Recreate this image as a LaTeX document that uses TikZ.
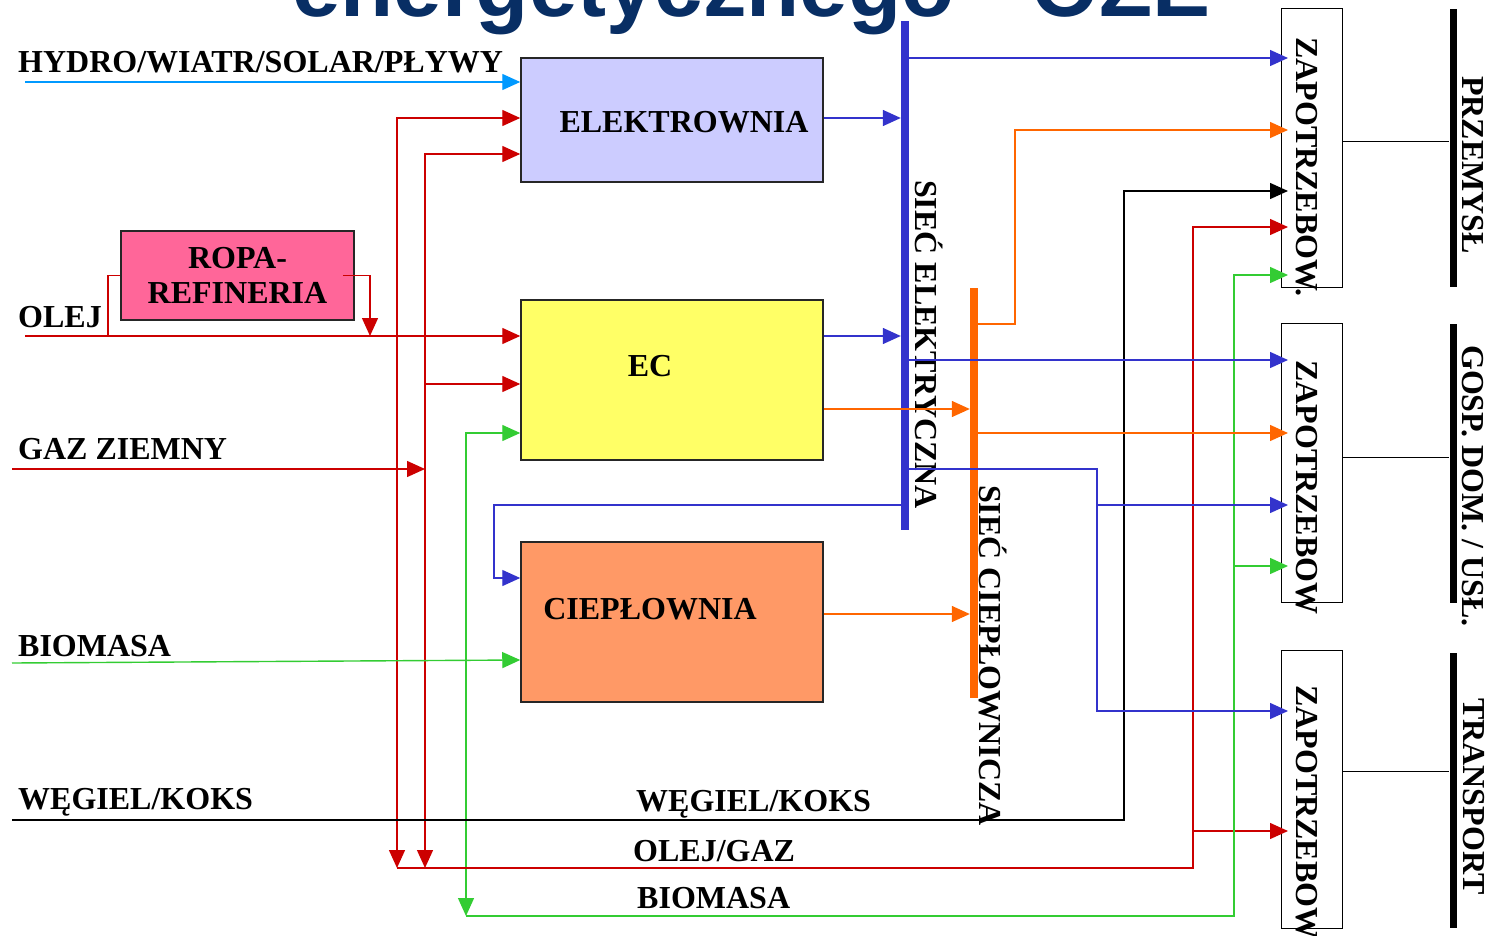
\documentclass[tikz,border=0pt]{standalone}
\usepackage{fontspec}
\setmainfont{Liberation Serif}
\newfontfamily\titlesans{Liberation Sans}
\usepackage{tikz}
\usetikzlibrary{arrows.meta, positioning}
\definecolor{titleblue}{RGB}{8,46,100}
\definecolor{gridblue}{RGB}{51,51,204}
\definecolor{hydroblue}{RGB}{0,153,255}
\definecolor{fuelred}{RGB}{204,0,0}
\definecolor{biogreen}{RGB}{51,204,51}
\definecolor{heatorange}{RGB}{255,102,0}
\definecolor{elfill}{RGB}{204,204,255}
\definecolor{ecfill}{RGB}{255,255,102}
\definecolor{cpfill}{RGB}{255,153,102}
\definecolor{rafill}{RGB}{255,102,153}

\begin{document}
\begin{tikzpicture}[x=1pt, y=-1pt,
    every node/.style={font=\fontsize{32}{35}\selectfont\bfseries, inner sep=0pt},
    plant/.style={rectangle, draw=black!85, line width=1.5pt},
    demand/.style={rectangle, draw=black, fill=white, line width=1pt, minimum width=61pt},
    bus/.style={rectangle, minimum width=8pt},
    sector bar/.style={rectangle, fill=black, minimum width=7pt},
    vtext/.style={rotate=-90, anchor=base west},
    txt/.style={anchor=base west},
    arr/.style={-{Triangle[length=18pt,width=16pt]}, line width=1.4pt},
    arr2/.style={{Triangle[length=18pt,width=16pt]}-{Triangle[length=18pt,width=16pt]}, line width=1.4pt},
    into/.style={shorten >=-7pt},
  ]
  \useasboundingbox (0,0) rectangle (1490,936);
  \clip (0,0) rectangle (1490,936);

  % ============ TITLE (cut by the top edge) ============
  \node[anchor=base west, font=\titlesans\fontsize{87}{87}\selectfont\bfseries, text=titleblue]
    (tytul) at (292,17) {energetycznego - OZE};

  % ============ PLANTS ============
  \node[plant, fill=elfill, minimum width=302pt, minimum height=124pt] (elek) at (672,120) {};
  \node[anchor=base] (elekT) at (684,133) {ELEKTROWNIA};
  \node[plant, fill=ecfill, minimum width=302pt, minimum height=160pt] (ec) at (672,380) {};
  \node[anchor=base] (ecT) at (650,376) {EC};
  \node[plant, fill=cpfill, minimum width=302pt, minimum height=160pt] (ciep) at (672,622) {};
  \node[anchor=base] (ciepT) at (650,619) {CIEPŁOWNIA};
  \node[plant, fill=rafill, minimum width=233pt, minimum height=89pt, align=center]
    (ropa) at (237.5,275.5) {ROPA-\\REFINERIA};

  % ============ GRIDS ============
  \node[bus, fill=gridblue, minimum height=508pt] (sel) at (905,275.5) {};
  \node[bus, fill=heatorange, minimum height=410pt] (sciep) at (974,493) {};
  \node[vtext] (selT) at (915,180) {SIEĆ ELEKTRYCZNA};
  \node[vtext] (sciepT) at (979,485) {SIEĆ CIEPŁOWNICZA};

  % ============ DEMAND + SECTORS ============
  \node[demand, minimum height=278pt] (zap1) at (1312,148) {};
  \node[demand, minimum height=279pt] (zap2) at (1312,462.5) {};
  \node[demand, minimum height=278pt] (zap3) at (1312,789) {};
  \node[vtext] (zap1T) at (1296,37) {ZAPOTRZEBOW.};
  \node[vtext] (zap2T) at (1296,360) {ZAPOTRZEBOW};
  \node[vtext] (zap3T) at (1296,685) {ZAPOTRZEBOW};

  \node[sector bar, minimum height=278pt] (prz) at (1453,148) {};
  \node[sector bar, minimum height=279pt] (gosp) at (1453,463) {};
  \node[sector bar, minimum height=275pt] (tra) at (1453,790.5) {};
  \node[vtext] (przT) at (1462,76) {PRZEMYSŁ};
  \node[vtext] (gospT) at (1462,345) {GOSP. DOM. / USŁ.};
  \node[vtext] (traT) at (1463,698) {TRANSPORT};

  \draw[line width=1pt] (zap1.east |- 0,142) -- (prz.west |- 0,142);
  \draw[line width=1pt] (zap2.east |- 0,457) -- (gosp.west |- 0,457);
  \draw[line width=1pt] (zap3.east |- 0,771) -- (tra.west |- 0,771);

  % ============ SOURCES (left) ============
  \coordinate (hydroIn) at (25,82);
  \coordinate (olejIn) at (25,336);
  \coordinate (gazIn) at (12,469);
  \coordinate (bioIn) at (12,663);
  \coordinate (wegIn) at (12,820);
  \node[txt] (hydroT) at (18,73) {HYDRO/WIATR/SOLAR/PŁYWY};
  \node[txt] (olejT) at (18,327) {OLEJ};
  \node[txt] (gazT) at (18,459) {GAZ ZIEMNY};
  \node[txt] (bioT) at (18,656) {BIOMASA};
  \node[txt] (wegT) at (18,809) {WĘGIEL/KOKS};

  % bottom collectors
  \coordinate (rA) at (397,868);
  \coordinate (rB) at (425,868);
  \coordinate (rC) at (1193,868);
  \coordinate (gA) at (466,916);
  \coordinate (gB) at (1234,916);
  \node[txt] (wegT2) at (636,811) {WĘGIEL/KOKS};
  \node[txt] (olgazT) at (633,861) {OLEJ/GAZ};
  \node[txt] (bioT2) at (637,908) {BIOMASA};

  % fuel into plants
  \draw[arr, hydroblue] (hydroIn) -- (elek.west |- hydroIn);
  \draw[arr2, fuelred] (rA) |- (elek.west |- 0,118);
  \draw[arr2, fuelred] (rB) |- (elek.west |- 0,154);
  \draw[arr, fuelred] (rB |- 0,384) -- (ec.west |- 0,384);
  \draw[arr, fuelred] (olejIn) -- (ec.west |- olejIn);
  \draw[fuelred, line width=1.4pt] (108,336) |- (ropa.west);
  \draw[arr, fuelred] ([xshift=-12pt]ropa.east) -| (370,336);
  \draw[arr, fuelred] (gazIn) -- (rB |- gazIn);
  \draw[arr2, biogreen] (gA) |- (ec.west |- 0,433);
  \draw[arr, biogreen] (bioIn) -- (ciep.west |- 0,660);

  % collectors into demand
  \draw[arr, fuelred, into] (rA) -- (rC) |- (zap1.west |- 0,227);
  \draw[arr, fuelred, into] (rC |- 0,831) -- (zap3.west |- 0,831);
  \draw[arr, biogreen, into] (gA) -- (gB) |- (zap1.west |- 0,275);
  \draw[arr, biogreen, into] (gB |- 0,566) -- (zap2.west |- 0,566);
  \draw[arr, black, into] (wegIn) -| (1124,191) -- (zap1.west |- 0,191);

  % electricity
  \draw[arr, gridblue] (elek.east |- 0,118) -- (sel.west |- 0,118);
  \draw[arr, gridblue] (ec.east |- 0,336) -- (sel.west |- 0,336);
  \draw[arr, gridblue, into] (sel.east |- 0,58) -- (zap1.west |- 0,58);
  \draw[arr, gridblue, into] (sel.east |- 0,360) -- (zap2.west |- 0,360);
  \draw[arr, gridblue, into] (sel.east |- 0,469) -| (1097,711) -- (zap3.west |- 0,711);
  \draw[arr, gridblue, into] (1097,505) -- (zap2.west |- 0,505);
  \draw[arr, gridblue] (sel.west |- 0,505) -| (494,578) -- (ciep.west |- 0,578);

  % heat
  \draw[arr, heatorange] (ec.east |- 0,409) -- (sciep.west |- 0,409);
  \draw[arr, heatorange] (ciep.east |- 0,614) -- (sciep.west |- 0,614);
  \draw[arr, heatorange, into] (sciep.east |- 0,324) -| (1015,130) -- (zap1.west |- 0,130);
  \draw[arr, heatorange, into] (sciep.east |- 0,433) -- (zap2.west |- 0,433);

\end{tikzpicture}
\end{document}
